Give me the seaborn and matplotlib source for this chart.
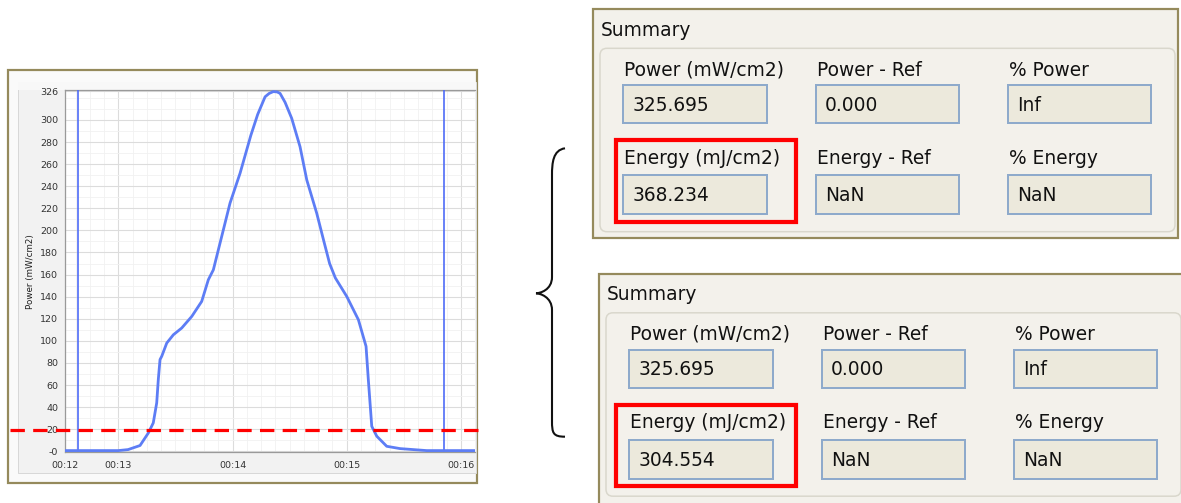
import numpy as np
import pandas as pd
import matplotlib
matplotlib.use("Agg")
import matplotlib.pyplot as plt
import matplotlib.transforms as mtransforms
from matplotlib.patches import Rectangle, FancyBboxPatch, PathPatch
from matplotlib.path import Path
from matplotlib.ticker import MultipleLocator
import seaborn as sns

# ---- measured irradiance trace (time in seconds, power in mW/cm2) ----
time_s = [12.533, 13.0, 13.085, 13.19, 13.263, 13.306, 13.336, 13.35, 13.365,
          13.38, 13.424, 13.482, 13.555, 13.643, 13.73, 13.788, 13.832, 13.978,
          14.066, 14.16, 14.22, 14.285, 14.32, 14.357, 14.39, 14.416, 14.46,
          14.518, 14.591, 14.65, 14.737, 14.80, 14.85, 14.90, 15.0, 15.102,
          15.169, 15.189, 15.219, 15.263, 15.35, 15.467, 15.70, 16.123]
power = [0.6, 0.6, 1.5, 5.2, 16.6, 25.7, 43.8, 65.0, 83.0,
         86.0, 98.0, 105.5, 111.6, 122.1, 135.7, 155.3, 164.3, 224.7,
         251.8, 286.0, 305.0, 321.0, 324.0, 325.7, 325.4, 324.1, 316.0,
         301.5, 275.8, 245.7, 215.6, 190.0, 170.0, 157.0, 140.2, 119.1,
         95.0, 64.8, 22.6, 13.6, 4.5, 2.4, 0.6, 0.6]

cursor_times = [12.647, 15.855]
threshold = 19.0

x_tick_pos = [12.533, 13, 14, 15, 16]
x_tick_labels = ["00:12", "00:13", "00:14", "00:15", "00:16"]
y_tick_pos = [0, 20, 40, 60, 80, 100, 120, 140, 160, 180, 200, 220, 240,
              260, 280, 300, 326]
y_tick_labels = ["-0", "20", "40", "60", "80", "100", "120", "140", "160",
                 "180", "200", "220", "240", "260", "280", "300", "326"]
y_axis_label = "Power (mW/cm2)"

# ---- summary readouts ----
summary_title = "Summary"
summary_labels = [["Power (mW/cm2)", "Power - Ref", "% Power"],
                  ["Energy (mJ/cm2)", "Energy - Ref", "% Energy"]]
summary_values_a = [["325.695", "0.000", "Inf"],
                    ["368.234", "NaN", "NaN"]]
summary_values_b = [["325.695", "0.000", "Inf"],
                    ["304.554", "NaN", "NaN"]]

sns.set_style("white")
plt.rcParams["font.family"] = ["DejaVu Sans"]

W, H = 1181, 503
fig = plt.figure(figsize=(W / 100, H / 100), dpi=100)
fig.patch.set_facecolor("white")

# pixel-space canvas for frames, panels and text
bg = fig.add_axes([0, 0, 1, 1], zorder=0)
bg.set_xlim(0, W)
bg.set_ylim(H, 0)
bg.axis("off")

PX = 0.72  # points per pixel at 100 dpi
OLIVE = "#958A5C"


def rect(x0, y0, x1, y1, fc, ec, lw_px=1.0, z=1):
    bg.add_patch(Rectangle((x0, y0), x1 - x0, y1 - y0, facecolor=fc,
                           edgecolor=ec, linewidth=lw_px * PX, zorder=z))


def rrect(x0, y0, x1, y1, fc, ec, lw_px=1.0, r=6, z=1):
    bg.add_patch(FancyBboxPatch((x0, y0), x1 - x0, y1 - y0,
                                boxstyle=f"round,pad=0,rounding_size={r}",
                                facecolor=fc, edgecolor=ec,
                                linewidth=lw_px * PX, zorder=z))


# ---- chart panel frame ----
rect(7.5, 69.5, 476.7, 483, "#FAFAFA", OLIVE, lw_px=2.2)
rect(18.3, 81.7, 475.5, 473.3, "#F2F2F2", "#D8D8D8", lw_px=1)
rect(18.3, 81.7, 475.5, 89.5, "#F8F8F8", "none", lw_px=0, z=2)
bg.text(31, 272, y_axis_label, rotation=90, ha="center", va="center",
        fontsize=6.3, color="#202020", zorder=3)

# ---- chart axes ----
ax = fig.add_axes([65 / W, (H - 451.7) / H, 410 / W, 362.2 / H], zorder=2)
ax.set_facecolor("white")
df = pd.DataFrame({"time": time_s, "power": power})
sns.lineplot(data=df, x="time", y="power", ax=ax, color="#5D7DF5",
             linewidth=2.0, sort=False, zorder=4)
for t in cursor_times:
    ax.axvline(t, color="#4F6CF7", linewidth=1.2, zorder=3)

ax.set_xlim(12.533, 16.123)
ax.set_ylim(-0.4, 327.6)
ax.set_xticks(x_tick_pos)
ax.set_xticklabels(x_tick_labels)
ax.set_yticks(y_tick_pos)
ax.set_yticklabels(y_tick_labels)
ax.xaxis.set_minor_locator(MultipleLocator(0.125))
ax.yaxis.set_minor_locator(MultipleLocator(10))
ax.grid(which="major", color="#DCDCDC", linewidth=0.8)
ax.grid(which="minor", color="#F1F1F1", linewidth=0.6)
ax.set_axisbelow(True)
ax.tick_params(axis="both", which="major", labelsize=6.8, colors="#333333",
               length=3, width=0.8, direction="out", pad=2)
ax.tick_params(axis="both", which="minor", length=0)
ax.tick_params(axis="x", pad=4)
ax.set_xlabel("")
ax.set_ylabel("")
for side in ["left", "bottom", "top"]:
    ax.spines[side].set_color("#9A9A9A")
    ax.spines[side].set_linewidth(0.9)
ax.spines["right"].set_visible(False)

# threshold line spanning the whole panel width
blend = mtransforms.blended_transform_factory(fig.transFigure, ax.transData)
ax.plot([10 / W, 486 / W], [threshold, threshold], transform=blend,
        color="#FF0000", linewidth=2.3, linestyle=(0, (4.5, 2.6)),
        clip_on=False, zorder=6)


# ---- summary panels ----
def summary_panel(dx, dy, values, outer_right, outer_bottom):
    rect(593.3 + dx, 9.3 + dy, outer_right, outer_bottom, "#F3F1EB", OLIVE,
         lw_px=2.2)
    rrect(600 + dx, 48.3 + dy, 1175 + dx, 231.7 + dy, "#F3F1EB", "#D9D7CC",
          lw_px=1.5, r=7, z=2)
    bg.text(601 + dx, 30 + dy, summary_title, ha="left", va="center",
            fontsize=13.4, color="#111111", zorder=4)
    col_x = [623.3, 816.0, 1007.7]
    label_y = [70, 158.3]
    box_y = [(85, 123.3), (175, 214.3)]
    box_w = 143.4
    for r in range(2):
        for c in range(3):
            x0 = col_x[c] + dx
            bg.text(x0 + 1, label_y[r] + dy, summary_labels[r][c], ha="left",
                    va="center", fontsize=13.4, color="#111111", zorder=4)
            y0, y1 = box_y[r]
            rect(x0, y0 + dy, x0 + box_w, y1 + dy, "#ECE9DC", "#8EAACB",
                 lw_px=2, z=3)
            bg.text(x0 + 9, (y0 + y1) / 2 + dy + 1, values[r][c], ha="left",
                    va="center", fontsize=13.4, color="#111111", zorder=4)
    # highlight around the energy readout
    rect(615.7, 140 + dy, 795.7, 221.7 + dy, "none", "#FF0000", lw_px=4.2,
         z=5)


summary_panel(0, 0, summary_values_a, 1177.7, 237.7)
summary_panel(6, 264.5, summary_values_b, 1186, 505)

# ---- brace joining the two panels ----
verts = [(565, 148.3), (553, 150), (552, 163), (552, 175),
         (552, 265), (552, 265), (552, 277),
         (552, 290), (540, 293.3), (536, 293.3),
         (540, 293.3), (552, 297), (552, 310),
         (552, 410), (552, 410), (552, 421),
         (552, 433), (553, 436.7), (565, 436.7)]
codes = [Path.MOVETO] + [Path.CURVE4] * 18
bg.add_patch(PathPatch(Path(verts, codes), facecolor="none",
                       edgecolor="#111111", linewidth=1.5, zorder=3))

fig.savefig("out.png", dpi=100)
